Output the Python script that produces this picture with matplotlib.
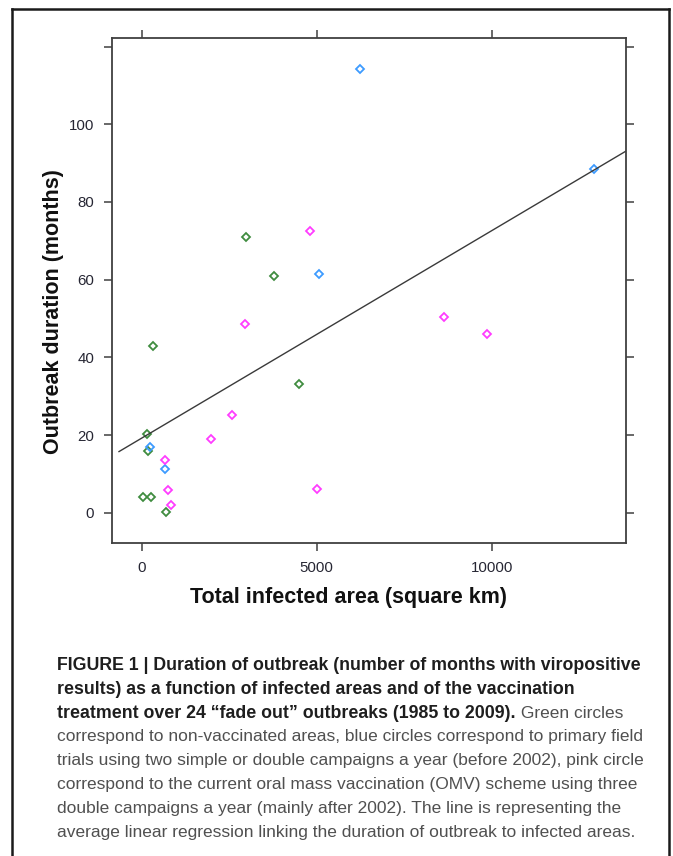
import numpy as np
import matplotlib
matplotlib.use("Agg")
import matplotlib.pyplot as plt
from matplotlib.lines import Line2D

plt.rcParams.update({
    "font.family": ["Liberation Sans", "DejaVu Sans"],
})

# ── Data ────────────────────────────────────────────────────────────────────
# green: non-vaccinated areas
green_x = [2989, 3789, 332, 4494, 142, 171, 29, 275, 704]
green_y = [71.1, 60.9, 43.0, 33.1, 20.3, 16.0, 4.0, 4.0, 0.2]
# blue: primary field trials (before 2002)
blue_x = [6246, 12914, 5057, 247, 675]
blue_y = [114.2, 88.5, 61.5, 16.8, 11.2]
# pink: oral mass vaccination (after 2002)
pink_x = [4818, 2961, 8646, 9866, 2571, 1971, 675, 743, 837, 5018]
pink_y = [72.6, 48.6, 50.5, 46.0, 25.1, 19.0, 13.6, 5.9, 2.0, 6.2]

# average linear regression
reg_intercept = 19.2
reg_slope = 0.00534
reg_x = [-649, 13837]

x_ticks = [0, 5000, 10000]
y_ticks = [0, 20, 40, 60, 80, 100, 120]
y_ticklabels = ["0", "20", "40", "60", "80", "100", ""]

caption_bold = [
    "FIGURE 1 | Duration of outbreak (number of months with viropositive",
    "results) as a function of infected areas and of the vaccination",
    "treatment over 24 \u201cfade out\u201d outbreaks (1985 to 2009).",
]
caption_tail = " Green circles"
caption_plain = [
    "correspond to non-vaccinated areas, blue circles correspond to primary field",
    "trials using two simple or double campaigns a year (before 2002), pink circle",
    "correspond to the current oral mass vaccination (OMV) scheme using three",
    "double campaigns a year (mainly after 2002). The line is representing the",
    "average linear regression linking the duration of outbreak to infected areas.",
]

GREEN = "#3f8c3f"
BLUE = "#3d9bff"
PINK = "#ff3cff"
AXC = "#404040"
W, H = 673, 856

fig = plt.figure(figsize=(W / 100, H / 100), dpi=100)
fig.patch.set_facecolor("white")

ax = fig.add_axes([112 / W, 1 - 543 / H, 514 / W, 505 / H])

mk = dict(ls="none", marker="D", ms=3.6, mew=1.3, mfc="none")
ax.plot(green_x, green_y, color=GREEN, **mk)
ax.plot(blue_x, blue_y, color=BLUE, **mk)
ax.plot(pink_x, pink_y, color=PINK, **mk)

rx = np.array(reg_x, dtype=float)
ax.plot(rx, reg_intercept + reg_slope * rx, color="#3a3a3a", lw=1.0)

ax.set_xlim(-849, 13837)
ax.set_ylim(-7.8, 122.2)
ax.set_xticks(x_ticks)
ax.set_yticks(y_ticks)
ax.set_yticklabels(y_ticklabels)
ax.tick_params(direction="out", length=5.8, width=1.1, color=AXC,
               labelsize=10.8, labelcolor="#262633",
               top=True, right=True, labeltop=False, labelright=False)
ax.tick_params(axis="y", pad=7.0)
ax.tick_params(axis="x", pad=7.5)
for s in ax.spines.values():
    s.set_color(AXC)
    s.set_linewidth(1.3)

fig.text(348 / W, 1 - 597 / H, "Total infected area (square km)",
         ha="center", va="center", fontsize=15.5, fontweight="bold", color="#111111")
fig.text(54 / W, 1 - 312 / H, "Outbreak duration (months)", rotation=90,
         ha="center", va="center", fontsize=15.5, fontweight="bold", color="#111111")

# outer frame (open at the bottom)
fx0, fx1, fy0 = 12 / W, 669 / W, 1 - 9 / H
for xs, ys in [([fx0, fx0], [0, fy0]), ([fx0, fx1], [fy0, fy0]), ([fx1, fx1], [fy0, 0])]:
    fig.add_artist(Line2D(xs, ys, color="#1a1a1a", lw=1.8, transform=fig.transFigure))

# caption
cx = 57 / W
line_y = [665 + 24 * i for i in range(8)]
fs_b, fs = 12.75, 12.5
last = None
for i, txt in enumerate(caption_bold):
    last = fig.text(cx, 1 - line_y[i] / H, txt, ha="left", va="center",
                    fontsize=fs_b, fontweight="bold", color="#1e1e1e")
fig.canvas.draw()
bb = last.get_window_extent(renderer=fig.canvas.get_renderer())
fig.text(bb.x1 / W, 1 - line_y[2] / H, caption_tail, ha="left", va="center",
         fontsize=fs, color="#505050")
for j, txt in enumerate(caption_plain):
    fig.text(cx, 1 - line_y[3 + j] / H, txt, ha="left", va="center",
             fontsize=fs, color="#505050")

fig.savefig("out.png", dpi=100)
